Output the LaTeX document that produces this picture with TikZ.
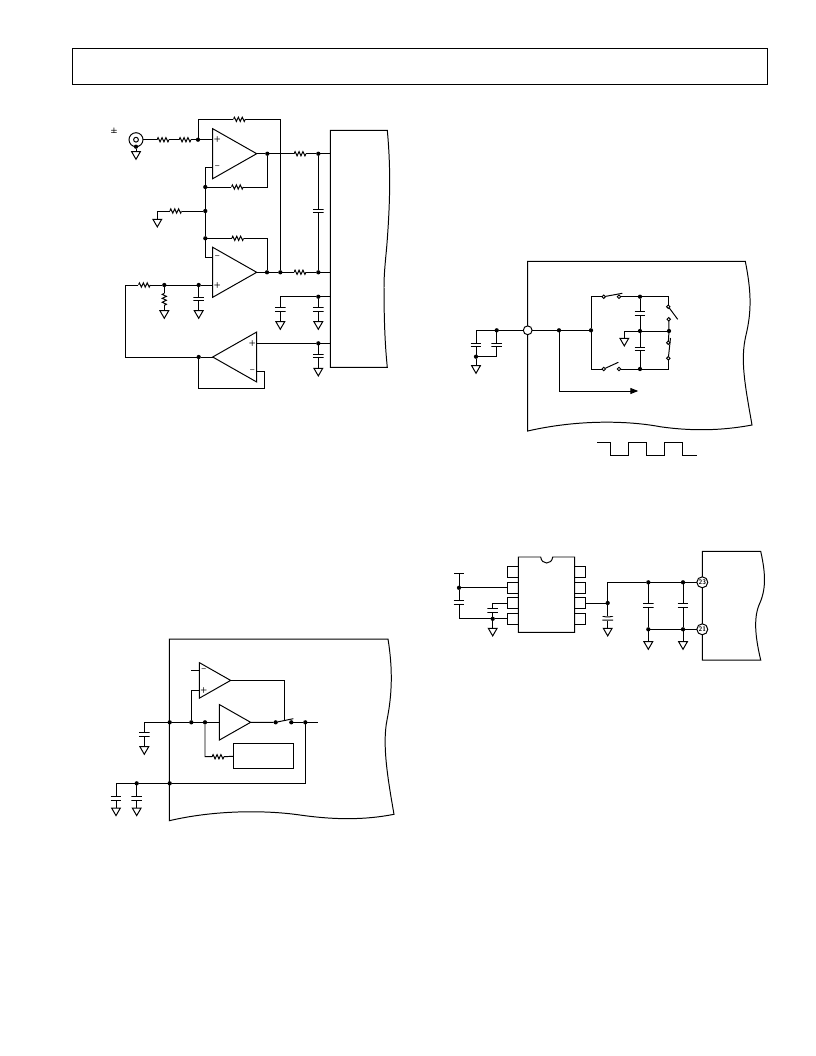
\documentclass[tikz,border=0pt]{standalone}
\usepackage{amsmath}
\usetikzlibrary{shapes.geometric,arrows.meta}

\begin{document}
\begin{tikzpicture}[x=0.75pt, y=-0.75pt, line width=0.74pt,
	dot/.style = {circle, fill, inner sep=0pt, outer sep=0pt, minimum size=3.2pt},
	hole/.style = {circle, draw, fill=white, inner sep=0pt, outer sep=0pt, line width=0.7pt, minimum size=2.6pt},
	gnd/.style = {regular polygon, regular polygon sides=3, shape border rotate=180, draw, inner sep=0pt, outer sep=0pt, minimum size=7.6pt, anchor=north},
	resh/.style = {inner sep=0pt, outer sep=0pt, minimum width=9pt, minimum height=4.6pt, path picture={
		\draw[shift={(path picture bounding box.center)}, x=1pt, y=1pt] (-4.5,0) -- (-3.7,1.6) -- (-2.2,-1.6) -- (-.7,1.6) -- (.7,-1.6) -- (2.2,1.6) -- (3.7,-1.6) -- (4.5,0);}},
	resv/.style = {inner sep=0pt, outer sep=0pt, minimum height=9pt, minimum width=4.6pt, path picture={
		\draw[shift={(path picture bounding box.center)}, x=1pt, y=1pt] (0,-4.5) -- (1.6,-3.7) -- (-1.6,-2.2) -- (1.6,-.7) -- (-1.6,.7) -- (1.6,2.2) -- (-1.6,3.7) -- (0,4.5);}},
	capv/.style = {inner sep=0pt, outer sep=0pt, minimum width=8pt, minimum height=3.4pt, path picture={
		\draw[shift={(path picture bounding box.center)}, x=1pt, y=1pt] (-4,-1.3) -- (4,-1.3) (-4,1.3) -- (4,1.3);}},
	capp/.style = {inner sep=0pt, outer sep=0pt, minimum width=8pt, minimum height=3.4pt, path picture={
		\draw[shift={(path picture bounding box.center)}, x=1pt, y=1pt] (-4,-1.3) -- (4,-1.3) (-4,1.7) .. controls (-2,.8) and (2,.8) .. (4,1.7);}},
	ampr/.style = {isosceles triangle, isosceles triangle stretches, draw, inner sep=0pt, outer sep=0pt, anchor=lower side},
	ampl/.style = {ampr, shape border rotate=180},
	bigamp/.style = {minimum height=33pt, minimum width=37.5pt},
	smallamp/.style = {minimum height=23.5pt, minimum width=26.7pt},
	sign/.style = {inner sep=0pt, font=\fontsize{6}{6}\selectfont\sffamily\bfseries},
	pin/.style = {draw, inner sep=0pt, outer sep=0pt, minimum width=8.2pt, minimum height=8.6pt},
	port/.style = {circle, draw, fill=white, inner sep=0pt, outer sep=0pt, minimum size=8.2pt, font=\fontsize{5}{5}\selectfont\sffamily\bfseries},
	box/.style = {draw, inner sep=0pt, outer sep=0pt}]
	\useasboundingbox (0,0) rectangle (816,1056);

	%% Header
	\draw (72,48) rectangle (767,84);

	%% Outlines
	\draw (330.3,130.3) -- (387.3,130.3) .. controls (391,170) and (390,205) .. (386.7,247) .. controls (385,265) and (384,275) .. (384,287) .. controls (384,320) and (385,345) .. (387.3,367.3) -- (330.3,367.3) -- cycle;
	\draw (527.7,261.3) -- (745.3,261.3) .. controls (751,290) and (752,310) .. (746,335) .. controls (740,360) and (745,385) .. (752,425) .. controls (720,431) and (690,431) .. (660,426.7) .. controls (630,421) and (580,419) .. (527.7,431) -- cycle;
	\draw (702.3,551.3) -- (760.7,551.3) .. controls (766,575) and (766,590) .. (759,605) .. controls (753,620) and (756,640) .. (760.7,660) -- (702.3,660) -- cycle;
	\draw (169.3,639) -- (388,639) .. controls (393,670) and (392,695) .. (387,720) .. controls (382,745) and (388,780) .. (394,814.3) .. controls (365,820) and (335,820) .. (300,815) .. controls (265,810) and (215,810) .. (169.3,820.7) -- cycle;

	%% Nodes, input stage
	\node[circle, draw, inner sep=0pt, outer sep=0pt, minimum size=10.5pt] (bnc) at (136,139.7) {};
	\node[circle, draw, inner sep=0pt, minimum size=3.6pt] (bnci) at (136,139.7) {};
	\node[sign] (pm) at (114,131) {±};
	\node[dot] (d0) at (136,146.7) {};
	\node[gnd] (g0) at (136,151.7) {};
	\node[resh] (r1) at (163,139.7) {};
	\node[resh] (r2) at (185,139.7) {};
	\node[dot] (d1) at (198,139.7) {};
	\node[resh] (r3) at (239.3,119.3) {};
	\coordinate (t1) at (198,119.3);
	\coordinate (t2) at (280.3,119.3);
	\node[ampr, bigamp] (amp1) at (212.7,153.7) {};
	\coordinate (amp1p) at (212.7,139.7);
	\coordinate (amp1n) at (212.7,167.3);
	\node[sign] (amp1ps) at (217.3,139.3) {+};
	\node[sign] (amp1ns) at (217.3,166.8) {--};
	\node[dot] (d3) at (267.3,153.7) {};
	\node[resh] (r4) at (300,153.7) {};
	\node[dot] (d4) at (318.3,153.7) {};
	\coordinate (b1) at (330.3,153.7);
	\node[dot] (d5) at (205.3,187) {};
	\node[resh] (r5) at (237.3,187) {};
	\coordinate (k2) at (267.3,187);
	\coordinate (k3) at (205.3,167.3);
	\node[dot] (d6) at (205.3,211) {};
	\node[resh] (r6) at (175.7,211) {};
	\coordinate (k6) at (157.3,211);
	\node[gnd] (g1) at (157.3,219.3) {};
	\node[dot] (d7) at (205.3,238.3) {};
	\node[resh] (r7) at (237.7,238.3) {};
	\coordinate (k7) at (267,238.3);
	\coordinate (k4) at (205.3,257.7);
	\node[ampr, bigamp] (amp2) at (212.7,272.3) {};
	\coordinate (amp2n) at (212.7,257.7);
	\coordinate (amp2p) at (212.7,285);
	\node[sign] (amp2ns) at (217.3,257.5) {--};
	\node[sign] (amp2ps) at (217.3,285.7) {+};
	\node[dot] (d8) at (267,272.3) {};
	\node[dot] (d2) at (280.3,272.3) {};
	\node[resh] (r8) at (300,272.3) {};
	\node[dot] (d9) at (318.3,272.3) {};
	\coordinate (b2) at (330.3,272.3);
	\node[capv] (c1) at (318.3,211) {};
	\coordinate (k8) at (125.3,285);
	\node[resh] (r9) at (144.3,285) {};
	\node[dot] (d10) at (164.3,285) {};
	\node[dot] (d11) at (198.7,285) {};
	\node[resv] (r10) at (164.3,299.3) {};
	\node[gnd] (g2) at (164.3,310.7) {};
	\node[capv] (c2) at (198.7,299) {};
	\node[gnd] (g3) at (198.7,310.7) {};
	\node[dot] (d12) at (318.3,296.7) {};
	\coordinate (b3) at (330.3,296.7);
	\coordinate (k9) at (280.3,296.7);
	\node[capv] (c3) at (280.3,309.3) {};
	\node[gnd] (g4) at (280.3,321.7) {};
	\node[capv] (c4) at (318.3,309.3) {};
	\node[gnd] (g5) at (318.3,321.7) {};
	\node[ampl, bigamp] (amp3) at (256.7,357) {};
	\coordinate (amp3p) at (256.7,343.3);
	\coordinate (amp3n) at (256.7,371.7);
	\node[sign] (amp3ps) at (252.3,343.3) {+};
	\node[sign] (amp3ns) at (252.3,371.7) {--};
	\node[dot] (d13) at (198.7,357) {};
	\coordinate (k10) at (125.3,357);
	\coordinate (k11) at (264.7,371.7);
	\coordinate (k12) at (264.7,388);
	\coordinate (k13) at (198.7,388);
	\node[dot] (d14) at (318.3,343.3) {};
	\coordinate (b4) at (330.3,343.3);
	\node[capv] (c5) at (318.3,356) {};
	\node[gnd] (g6) at (318.3,368.3) {};

	%% Edges, input stage
	\draw (bnc) -- (r1) -- (r2) -- (d1) -- (amp1p);
	\draw (bnc) -- (d0) -- (g0);
	\draw (d1) -- (t1) -- (r3) -- (t2) -- (d2);
	\draw (amp1.apex) -- (d3) -- (r4) -- (d4) -- (b1);
	\draw (d3) -- (k2) -- (r5) -- (d5);
	\draw (amp1n) -- (k3) -- (d5) -- (d6) -- (d7) -- (k4) -- (amp2n);
	\draw (d6) -- (r6) -- (k6) -- (g1);
	\draw (d7) -- (r7) -- (k7) -- (d8);
	\draw (amp2.apex) -- (d8) -- (d2) -- (r8) -- (d9) -- (b2);
	\draw (d4) -- (c1) -- (d9);
	\draw (k10) -- (k8) -- (r9) -- (d10) -- (d11) -- (amp2p);
	\draw (d10) -- (r10) -- (g2);
	\draw (d11) -- (c2) -- (g3);
	\draw (b3) -- (d12) -- (k9) -- (c3) -- (g4);
	\draw (d12) -- (c4) -- (g5);
	\draw (amp3.apex) -- (d13) -- (k10);
	\draw (amp3n) -- (k11) -- (k12) -- (k13) -- (d13);
	\draw (amp3p) -- (d14) -- (b4);
	\draw (d14) -- (c5) -- (g6);

	%% Nodes, switched caps
	\node[circle, draw, fill=white, inner sep=0pt, outer sep=0pt, minimum size=6.6pt] (pad) at (527.7,330.3) {};
	\node[dot] (e1) at (496.7,330.3) {};
	\coordinate (e0) at (476,330.3);
	\node[capv] (c6) at (476,345) {};
	\node[capv] (c7) at (496.7,345) {};
	\node[dot] (e2) at (476,356.7) {};
	\coordinate (e3) at (496.7,356.7);
	\node[gnd] (g7) at (476,365.7) {};
	\node[dot] (e4) at (559,330.3) {};
	\node[dot] (e5) at (591,330.3) {};
	\coordinate (e6) at (559,391);
	\coordinate (e7) at (638.3,391);
	\coordinate (e8) at (591,296.7);
	\coordinate (e9) at (591,369);
	\node[hole] (s1) at (603.7,296.7) {};
	\node[hole] (s2) at (619,296.7) {};
	\coordinate (s1b) at (622.3,293.3);
	\node[hole] (s3) at (603.7,369) {};
	\node[hole] (s4) at (619,369) {};
	\coordinate (s3b) at (618.3,362.3);
	\node[dot] (e10) at (640,296.7) {};
	\node[dot] (e11) at (640,369) {};
	\node[dot] (e12) at (640,331) {};
	\node[dot] (e13) at (669,331) {};
	\node[capv] (c8) at (640,313.3) {};
	\node[capv] (c9) at (640,349) {};
	\coordinate (e14) at (624.3,331);
	\node[gnd] (g8) at (624.3,338.3) {};
	\coordinate (e15) at (668.3,296.7);
	\coordinate (e16) at (668.3,369);
	\node[hole] (s5) at (668.3,306.7) {};
	\node[hole] (s6) at (668.7,319.3) {};
	\coordinate (s5b) at (677.7,319.3);
	\node[hole] (s7) at (668.3,342.7) {};
	\node[hole] (s8) at (668.3,358.3) {};
	\coordinate (s8b) at (670.5,338);
	\draw (597.3,442.7) -- (610.7,442.7) -- (610.7,455.3) -- (628.7,455.3) -- (628.7,442.7) -- (646.7,442.7) -- (646.7,455.3) -- (664.7,455.3) -- (664.7,442.7) -- (682.7,442.7) -- (682.7,455.3) -- (696.7,455.3);

	%% Edges, switched caps
	\draw (pad) -- (e1) -- (e0) -- (c6) -- (e2) -- (g7);
	\draw (e1) -- (c7) -- (e3) -- (e2);
	\draw (pad) -- (e4) -- (e5);
	\draw[-{Triangle[length=6pt,width=4.5pt]}] (e4) -- (e6) -- (e7);
	\draw (e8) -- (e5) -- (e9);
	\draw (e8) -- (s1);
	\draw (s1) -- (s1b);
	\draw (s2) -- (e10) -- (e15) -- (s5);
	\draw (s5) -- (s5b);
	\draw (s6) -- (e13);
	\draw (e9) -- (s3);
	\draw (s3) -- (s3b);
	\draw (s4) -- (e11) -- (e16) -- (s8);
	\draw (s8) -- (s8b);
	\draw (s7) -- (e13);
	\draw (e10) -- (c8) -- (e12) -- (c9) -- (e11);
	\draw (e14) -- (e12) -- (e13);
	\draw (e14) -- (g8);

	%% Nodes, reference chip
	\draw (518.3,557) -- (540.7,557) .. controls (541.5,565) and (551.9,565) .. (552.7,557) -- (574.7,557) -- (574.7,632.3) -- (518.3,632.3) -- cycle;
	\foreach \i/\y in {1/572,2/587.8,3/603,4/618.8} {
		\node[pin] (pl\i) at (512.8,\y) {};
		\node[pin] (pr\i) at (579.9,\y) {};
	}
	\coordinate (f0) at (459,573.3);
	\coordinate (f0l) at (454,573.3);
	\coordinate (f0r) at (464.3,573.3);
	\node[dot] (f1) at (459,587.8) {};
	\node[capv] (c10) at (459,602.7) {};
	\coordinate (f2) at (459,618.8);
	\node[dot] (f3) at (492.7,618.8) {};
	\node[capv] (c11) at (492.7,610.7) {};
	\coordinate (f4) at (492.7,603);
	\node[gnd] (g9) at (492.7,628.3) {};
	\node[dot] (f5) at (607.7,603) {};
	\coordinate (f6) at (607.7,582.3);
	\node[dot] (f7) at (648.3,582.3) {};
	\node[dot] (f8) at (683,582.3) {};
	\node[capp] (c12) at (607.7,618.3) {};
	\node[gnd] (g10) at (607.7,628.3) {};
	\node[capv] (c13) at (648.3,605.7) {};
	\node[capv] (c14) at (683,605.7) {};
	\node[dot] (f9) at (648.3,629.3) {};
	\node[dot] (f10) at (683,629.3) {};
	\node[gnd] (g11) at (648.3,641.7) {};
	\node[gnd] (g12) at (683,641.7) {};
	\node[port] (p23) at (702.3,582.3) {23};
	\node[port] (p21) at (702.3,629.3) {21};

	%% Edges, reference chip
	\draw (f0l) -- (f0r);
	\draw (f0) -- (f1) -- (c10) -- (f2) -- (f3) -- (pl4);
	\draw (f1) -- (pl2);
	\draw (f3) -- (c11) -- (f4) -- (pl3);
	\draw (f3) -- (g9);
	\draw (pr3) -- (f5) -- (f6) -- (f7) -- (f8) -- (p23);
	\draw (f5) -- (c12) -- (g10);
	\draw (f7) -- (c13) -- (f9) -- (g11);
	\draw (f8) -- (c14) -- (f10) -- (g12);
	\draw (f9) -- (f10) -- (p21);

	%% Nodes, track and hold
	\node[ampr, smallamp] (amp4) at (199.3,680.4) {};
	\coordinate (amp4n) at (199.3,670.3);
	\coordinate (amp4p) at (199.3,690);
	\node[sign] (amp4ns) at (203.7,670.3) {--};
	\node[sign] (amp4ps) at (203.7,690) {+};
	\coordinate (h0) at (191,670.3);
	\coordinate (h1) at (191.3,690);
	\node[ampr, smallamp] (amp5) at (219.3,722.3) {};
	\coordinate (h2) at (144.3,722.3);
	\node[dot] (h3) at (169.7,722.3) {};
	\node[dot] (h4) at (191.3,722.3) {};
	\node[dot] (h5) at (205,722.3) {};
	\node[dot] (h6) at (275.7,722.3) {};
	\node[dot] (h7) at (291.3,722.3) {};
	\node[dot] (h8) at (305.3,722.3) {};
	\coordinate (h9) at (318.3,722.3);
	\coordinate (h10) at (293.3,718.7);
	\coordinate (h11) at (284.3,680.4);
	\coordinate (h12) at (284.3,720.7);
	\coordinate (h13) at (205,756.7);
	\node[resh] (r11) at (218,756.7) {};
	\node[box, minimum width=45pt, minimum height=18.8pt] (dac) at (263.3,755.8) {};
	\node[capv] (c15) at (144.3,734.7) {};
	\node[gnd] (g13) at (144.3,746.7) {};
	\coordinate (h14) at (305.3,783.3);
	\node[dot] (h15) at (169.7,783.3) {};
	\node[dot] (h16) at (136.7,783.3) {};
	\coordinate (h17) at (116,783.3);
	\node[capv] (c16) at (116,798.3) {};
	\node[capv] (c17) at (136.7,798.3) {};
	\node[gnd] (g14) at (116,808) {};
	\node[gnd] (g15) at (136.7,808) {};

	%% Edges, track and hold
	\draw (h0) -- (amp4n);
	\draw (amp4p) -- (h1) -- (h4);
	\draw (amp4.apex) -- (h11) -- (h12);
	\draw (h2) -- (h3) -- (h4) -- (h5) -- (amp5.lower side);
	\draw (amp5.apex) -- (h6) -- (h10);
	\draw (h7) -- (h8) -- (h9);
	\draw (h5) -- (h13) -- (r11) -- (dac);
	\draw (h2) -- (c15) -- (g13);
	\draw (h8) -- (h14) -- (h15) -- (h16) -- (h17) -- (c16) -- (g14);
	\draw (h16) -- (c17) -- (g15);
\end{tikzpicture}
\end{document}
